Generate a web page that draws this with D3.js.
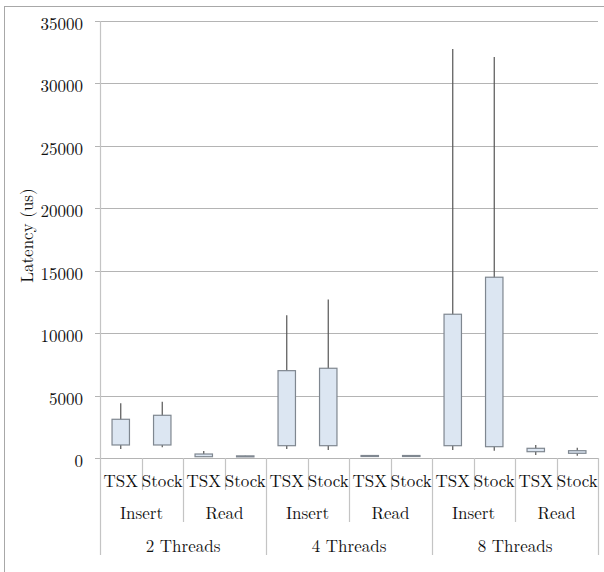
<!DOCTYPE html>
<html>
<head>
<meta charset="utf-8">
<script src="https://cdn.jsdelivr.net/npm/d3@7"></script>
<style>
  body { margin: 0; background: #fff; }
</style>
</head>
<body>
<div id="chart"></div>
<script>
const serif = "Latin Modern Roman";

// Hierarchical categories
const threads = ["2 Threads", "4 Threads", "8 Threads"];
const ops = ["Insert", "Read"];
const impls = ["TSX", "Stock"];

// Box plot values (latency, us), one per bar in order
const whiskerLow  = [721, 857, 90, 100, 721, 641, 120, 130, 641, 585, 240, 184];
const q1          = [1042, 1042, 104, 120, 986, 986, 140, 140, 986, 906, 505, 377];
const q3          = [3101, 3421, 320, 170, 6995, 7187, 200, 200, 11514, 14479, 777, 585];
const whiskerHigh = [4383, 4511, 561, 180, 11434, 12685, 210, 250, 32748, 32107, 1042, 825];

const yTicks = [0, 5000, 10000, 15000, 20000, 25000, 30000, 35000];

const width = 604, height = 572;
const margin = { top: 21, right: 6, bottom: 114, left: 100 };
const plotW = width - margin.left - margin.right;
const plotH = height - margin.top - margin.bottom;

// build the flat list of bars
const bars = [];
threads.forEach(t => ops.forEach(o => impls.forEach(i => {
  const k = bars.length;
  bars.push({ id: k, thread: t, op: o, impl: i,
    low: whiskerLow[k], q1: q1[k], q3: q3[k], high: whiskerHigh[k] });
})));

const svg = d3.select("#chart").append("svg")
  .attr("width", width)
  .attr("height", height);

// outer frame
svg.append("rect")
  .attr("x", 4.5).attr("y", 6.5)
  .attr("width", 700).attr("height", 700)
  .attr("fill", "none").attr("stroke", "#a8a8a8");

const g = svg.append("g")
  .attr("transform", `translate(${margin.left},${margin.top})`);

const x = d3.scaleBand().domain(bars.map(d => d.id)).range([0, plotW]);
const y = d3.scaleLinear().domain([0, 35000]).range([plotH, 0]);

// gridlines
g.append("g").selectAll("line").data(yTicks).enter().append("line")
  .attr("x1", -5).attr("x2", plotW)
  .attr("y1", d => Math.round(y(d)) + 0.5).attr("y2", d => Math.round(y(d)) + 0.5)
  .attr("stroke", "#b4b4b4").attr("stroke-width", 1.2);

// y axis labels
const yAxis = g.append("g")
  .call(d3.axisLeft(y).tickValues(yTicks).tickSize(0).tickPadding(17).tickFormat(d3.format("d")));
yAxis.select(".domain").remove();
yAxis.attr("font-family", serif).attr("font-size", 17);
yAxis.selectAll("text")
  .attr("dy", "0.5em")
  .attr("font-family", serif)
  .attr("font-size", 17)
  .attr("fill", "#111");

// left axis line, extending through label rows
const bw = x.bandwidth();
g.append("line")
  .attr("x1", 0.5).attr("x2", 0.5)
  .attr("y1", 0).attr("y2", plotH + 97)
  .attr("stroke", "#c4c4c4").attr("stroke-width", 1.2);

// category separators
const sepDepth = [32, 64, 97];
for (let k = 1; k <= bars.length; k++) {
  let depth = sepDepth[0];
  if (k % 2 === 0) depth = sepDepth[1];
  if (k % 4 === 0) depth = sepDepth[2];
  g.append("line")
    .attr("x1", Math.round(x(k - 1) + bw) + 0.5).attr("x2", Math.round(x(k - 1) + bw) + 0.5)
    .attr("y1", plotH).attr("y2", plotH + depth)
    .attr("stroke", "#c4c4c4").attr("stroke-width", 1.2);
}

// category labels
const lbl = g.append("g");
function styleText(sel) {
  sel.attr("font-family", serif).attr("font-size", 17)
    .attr("text-anchor", "middle").attr("fill", "#111");
}
lbl.selectAll(".impl").data(bars).enter().append("text")
  .attr("class", "impl")
  .attr("x", d => x(d.id) + bw / 2)
  .attr("y", plotH + 29)
  .call(styleText)
  .text(d => d.impl);

const opGroups = [];
threads.forEach((t, ti) => ops.forEach((o, oi) => opGroups.push({ t, o, start: ti * 4 + oi * 2 })));
lbl.selectAll(".op").data(opGroups).enter().append("text")
  .attr("class", "op")
  .attr("x", d => x(d.start) + bw)
  .attr("y", plotH + 61)
  .call(styleText)
  .text(d => d.o);

lbl.selectAll(".thr").data(threads).enter().append("text")
  .attr("class", "thr")
  .attr("x", (d, i) => x(i * 4) + bw * 2)
  .attr("y", plotH + 94)
  .call(styleText)
  .text(d => d);

// boxes
const boxW = bw * 0.42;
const box = g.append("g").selectAll("g").data(bars).enter().append("g");
box.append("line")
  .attr("x1", d => x(d.id) + bw / 2).attr("x2", d => x(d.id) + bw / 2)
  .attr("y1", d => y(d.high)).attr("y2", d => y(d.low))
  .attr("stroke", "#555").attr("stroke-width", 1.2);
box.append("rect")
  .attr("x", d => x(d.id) + bw / 2 - boxW / 2)
  .attr("y", d => y(d.q3))
  .attr("width", boxW)
  .attr("height", d => Math.max(1, y(d.q1) - y(d.q3)))
  .attr("fill", "#dce6f2")
  .attr("stroke", "#7f8790").attr("stroke-width", 1.2);

// y label
svg.append("text")
  .attr("transform", `translate(33,${margin.top + plotH / 2 - 4}) rotate(-90)`)
  .call(styleText)
  .text("Latency (us)");
</script>
</body>
</html>
